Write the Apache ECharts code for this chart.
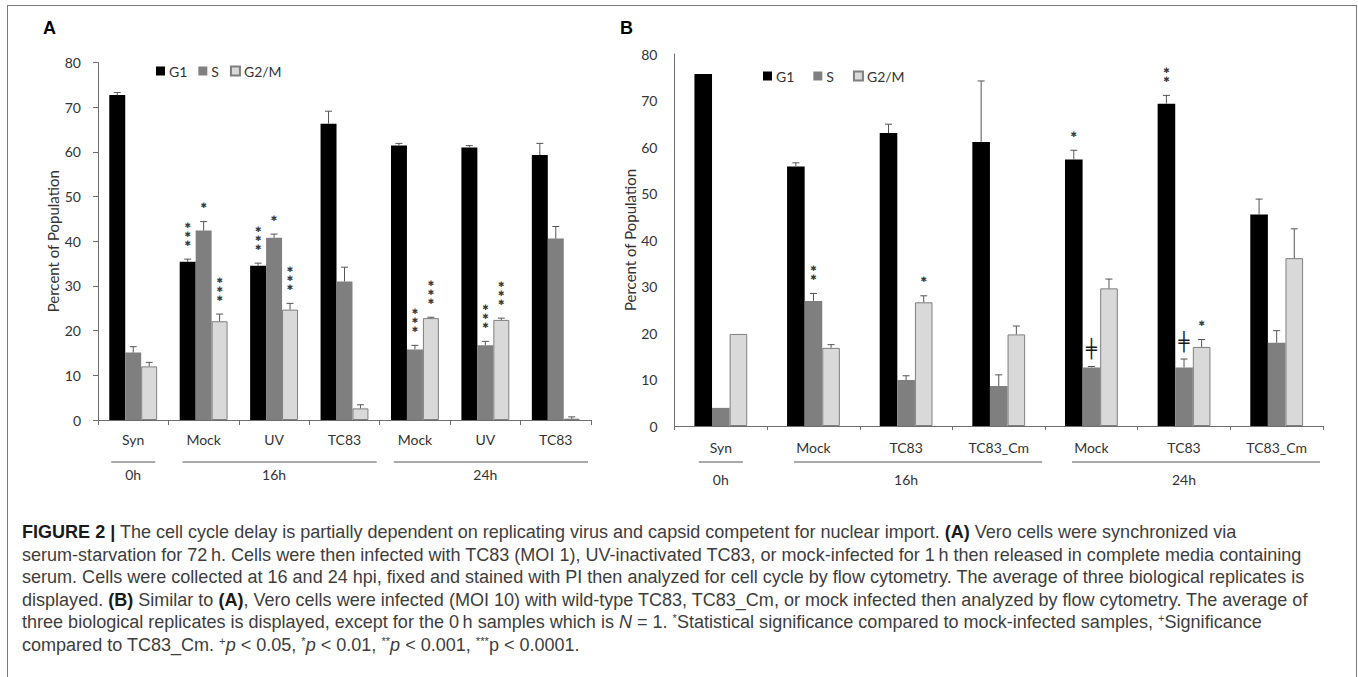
<!DOCTYPE html>
<html>
<head>
<meta charset="utf-8">
<script src="https://cdn.jsdelivr.net/npm/echarts@6/dist/echarts.min.js"></script>
<style>
html,body{margin:0;padding:0;width:1358px;height:677px;overflow:hidden;background:#fff;}
#frame{position:absolute;left:7px;top:5px;width:1350px;height:720px;border:1px solid #7a7a7a;box-sizing:border-box;}
#chart{position:absolute;left:0;top:0;width:1358px;height:677px;}
#caption{position:absolute;left:22px;top:521px;font-family:"Liberation Sans",Arial,sans-serif;color:#3d3d3d;white-space:nowrap;font-size:16px;line-height:22.5px;}
#caption .ln{display:block;height:22.5px;}
#caption .ln span{display:inline-block;}
#caption b{font-weight:700;color:#1a1a1a;}
#caption sup{font-size:0.62em;line-height:0;vertical-align:0.55em;}
</style>
</head>
<body>
<div id="frame"></div>
<div id="chart"></div>
<div id="caption">
<div class="ln"><span><b>FIGURE 2 |</b> The cell cycle delay is partially dependent on replicating virus and capsid competent for nuclear import. <b>(A)</b> Vero cells were synchronized via</span></div>
<div class="ln"><span>serum-starvation for 72&#8201;h. Cells were then infected with TC83 (MOI 1), UV-inactivated TC83, or mock-infected for 1&#8201;h then released in complete media containing</span></div>
<div class="ln"><span>serum. Cells were collected at 16 and 24 hpi, fixed and stained with PI then analyzed for cell cycle by flow cytometry. The average of three biological replicates is</span></div>
<div class="ln"><span>displayed. <b>(B)</b> Similar to <b>(A)</b>, Vero cells were infected (MOI 10) with wild-type TC83, TC83_Cm, or mock infected then analyzed by flow cytometry. The average of</span></div>
<div class="ln"><span>three biological replicates is displayed, except for the 0&#8201;h samples which is <i>N</i> = 1. <sup>*</sup>Statistical significance compared to mock-infected samples, <sup>+</sup>Significance</span></div>
<div class="ln"><span>compared to TC83_Cm. <sup>+</sup><i>p</i> &lt; 0.05, <sup>*</sup><i>p</i> &lt; 0.01, <sup>**</sup><i>p</i> &lt; 0.001, <sup>***</sup>p &lt; 0.0001.</span></div>
</div>
<script>
// ---------- Panel A data ----------
const categoriesA = ['Syn', 'Mock', 'UV', 'TC83', 'Mock', 'UV', 'TC83'];
const groupsA = [['0h', 0, 0], ['16h', 1, 3], ['24h', 4, 6]];
const g1A = [72.7, 35.4, 34.5, 66.3, 61.4, 61.0, 59.3];
const g1ErrA = [0.6, 0.6, 0.6, 2.8, 0.5, 0.4, 2.6];
const sA = [15.1, 42.4, 40.8, 31.0, 15.8, 16.7, 40.6];
const sErrA = [1.3, 2.0, 0.8, 3.2, 0.9, 0.9, 2.7];
const g2mA = [12.0, 22.1, 24.7, 2.6, 22.8, 22.4, 0.3];
const g2mErrA = [0.9, 1.6, 1.4, 0.8, 0.2, 0.4, 0.4];
const g1SigA = ['', '***', '***', '', '', '', ''];
const sSigA = ['', '*', '*', '', '***', '***', ''];
const g2mSigA = ['', '***', '***', '', '***', '***', ''];

// ---------- Panel B data ----------
const categoriesB = ['Syn', 'Mock', 'TC83', 'TC83_Cm', 'Mock', 'TC83', 'TC83_Cm'];
const groupsB = [['0h', 0, 0], ['16h', 1, 3], ['24h', 4, 6]];
const g1B = [75.7, 55.8, 63.0, 61.1, 57.3, 69.3, 45.5];
const g1ErrB = [0, 0.8, 1.9, 13.1, 2.0, 1.8, 3.3];
const sB = [3.9, 26.9, 9.9, 8.6, 12.6, 12.6, 17.9];
const sErrB = [0, 1.6, 0.9, 2.4, 0.2, 1.8, 2.6];
const g2mB = [19.8, 16.8, 26.6, 19.7, 29.6, 17.0, 36.1];
const g2mErrB = [0, 0.7, 1.4, 1.8, 2.0, 1.6, 6.3];
const g1SigB = ['', '', '', '', '*', '**', ''];
const sSigB = ['', '**', '', '', '\u256A', '\u256A', ''];
const g2mSigB = ['', '', '*', '', '', '*', ''];

const seriesNames = ['G1', 'S', 'G2/M'];
const yTicks = [0, 10, 20, 30, 40, 50, 60, 70, 80];

const FONT = 'Lato, "Open Sans", sans-serif';
const TXT = '#333333';
const AXIS = '#6e6e6e';
const ERR = '#555555';
const GAP_A = 0.32, GAP_B = 0.43;
const STAR = '\u2731';

const colors = {
  'G1': { color: '#000000' },
  'S': { color: '#7f7f7f' },
  'G2/M': { color: '#d9d9d9', borderColor: '#7f7f7f', borderWidth: 1 }
};

function barSeries(name, data, gi, gap) {
  return {
    type: 'bar', name: name, data: data, xAxisIndex: gi, yAxisIndex: gi,
    barGap: '0%', barCategoryGap: (gap * 100) + '%',
    itemStyle: colors[name], silent: true, z: 2
  };
}

function errSeries(pos, means, errs, sigs, gi, gap) {
  return {
    type: 'custom', xAxisIndex: gi, yAxisIndex: gi, silent: true, clip: false, z: 5,
    data: means.map((m, i) => [i, m, errs[i]]),
    encode: { x: 0, y: 1 },
    renderItem: function (params, api) {
      const i = api.value(0), m = api.value(1), e = api.value(2);
      const band = api.size([1, 0])[0];
      const bw = band * (1 - gap) / 3;
      const cx = api.coord([i, 0])[0] + (pos - 1) * bw;
      const yb = api.coord([i, m])[1];
      const yt = api.coord([i, m + e])[1];
      const children = [];
      if (e > 0) {
        children.push({ type: 'line', shape: { x1: cx, y1: yb, x2: cx, y2: yt }, style: { stroke: ERR, lineWidth: 1 } });
        children.push({ type: 'line', shape: { x1: cx - 3.5, y1: yt, x2: cx + 3.5, y2: yt }, style: { stroke: ERR, lineWidth: 1 } });
      }
      const sig = sigs[params.dataIndex];
      if (sig) {
        if (sig[0] === '*') {
          for (let k = 0; k < sig.length; k++) {
            children.push({ type: 'text', style: {
              text: STAR, x: cx, y: yt - 16 - k * 9,
              align: 'center', verticalAlign: 'middle', textAlign: 'center', textVerticalAlign: 'middle',
              font: '7.7px "DejaVu Sans"', fill: '#3a3a3a' } });
          }
        } else {
          children.push({ type: 'text', style: {
            text: sig, x: cx, y: yt - 18,
            align: 'center', verticalAlign: 'middle', textAlign: 'center', textVerticalAlign: 'middle',
            font: '18px "DejaVu Sans"', fill: '#1a1a1a' } });
        }
      }
      return { type: 'group', children: children };
    }
  };
}

function groupSeries(groups, gi, inset, lineOff, textOff) {
  return {
    type: 'custom', xAxisIndex: gi, yAxisIndex: gi, silent: true, clip: false, z: 5,
    data: groups.map(g => [g[1], 0]),
    encode: { x: 0, y: 1 },
    renderItem: function (params, api) {
      const g = groups[params.dataIndex];
      const band = api.size([1, 0])[0];
      const ps = api.coord([g[1], 0]);
      const pe = api.coord([g[2], 0]);
      const y0 = ps[1];
      let x1, x2;
      if (g[1] === g[2]) { x1 = ps[0] - 22; x2 = ps[0] + 22; }
      else { x1 = ps[0] - band / 2 + inset * band; x2 = pe[0] + band / 2 - 3; }
      return { type: 'group', children: [
        { type: 'line', shape: { x1: x1, y1: y0 + lineOff, x2: x2, y2: y0 + lineOff }, style: { stroke: '#555', lineWidth: 1 } },
        { type: 'text', style: { text: g[0], x: (ps[0] + pe[0]) / 2, y: y0 + textOff,
          align: 'center', verticalAlign: 'middle', textAlign: 'center', textVerticalAlign: 'middle',
          font: '14px ' + FONT, fill: TXT } }
      ] };
    }
  };
}

function xAxisCfg(cats, gi, margin, tickLen) {
  return {
    type: 'category', data: cats, gridIndex: gi,
    axisLine: { show: true, lineStyle: { color: AXIS, width: 1 } },
    axisTick: { show: true, length: tickLen, lineStyle: { color: AXIS } },
    axisLabel: { interval: 0, fontSize: 14, fontFamily: FONT, color: TXT, margin: margin },
    splitLine: { show: false }
  };
}

function yAxisCfg(gi, ticks, nameGap) {
  return {
    type: 'value', gridIndex: gi, min: 0, max: 80, interval: 10,
    axisLine: { show: true, lineStyle: { color: AXIS, width: 1 } },
    axisTick: { show: ticks, length: 5, lineStyle: { color: AXIS } },
    axisLabel: { fontSize: 14, fontFamily: FONT, color: TXT, margin: 17,
      formatter: v => (yTicks.indexOf(v) >= 0 ? String(v) : '') },
    splitLine: { show: false },
    name: 'Percent of Population', nameLocation: 'middle', nameGap: nameGap, nameRotate: 90,
    nameTextStyle: { fontSize: 15, fontFamily: FONT, color: TXT }
  };
}

function legendCfg(left, top, gap) {
  return {
    data: seriesNames, left: left, top: top, orient: 'horizontal',
    icon: 'rect', itemWidth: 9, itemHeight: 9, itemGap: gap, padding: 0,
    selectedMode: false,
    textStyle: { fontSize: 14, fontFamily: FONT, color: TXT, padding: [0, 0, 0, -1] }
  };
}

const chart = echarts.init(document.getElementById('chart'), null, { renderer: 'svg' });
const option = {
  animation: false,
  backgroundColor: 'transparent',
  graphic: [
    { type: 'text', left: 43, top: 19, style: { text: 'A', font: 'bold 18px "Liberation Sans", Arial', fill: '#000' } },
    { type: 'text', left: 620, top: 19, style: { text: 'B', font: 'bold 18px "Liberation Sans", Arial', fill: '#000' } }
  ],
  legend: [legendCfg(156, 64, 11), legendCfg(763, 69, 19)],
  grid: [
    { left: 98, top: 62.5, width: 493, height: 357.5, containLabel: false },
    { left: 674.5, top: 54, width: 648.5, height: 372, containLabel: false }
  ],
  xAxis: [xAxisCfg(categoriesA, 0, 12, 5), xAxisCfg(categoriesB, 1, 14, 4)],
  yAxis: [yAxisCfg(0, true, 37), yAxisCfg(1, false, 36)],
  series: [
    barSeries('G1', g1A, 0, GAP_A), barSeries('S', sA, 0, GAP_A), barSeries('G2/M', g2mA, 0, GAP_A),
    barSeries('G1', g1B, 1, GAP_B), barSeries('S', sB, 1, GAP_B), barSeries('G2/M', g2mB, 1, GAP_B),
    errSeries(0, g1A, g1ErrA, g1SigA, 0, GAP_A), errSeries(1, sA, sErrA, sSigA, 0, GAP_A), errSeries(2, g2mA, g2mErrA, g2mSigA, 0, GAP_A),
    errSeries(0, g1B, g1ErrB, g1SigB, 1, GAP_B), errSeries(1, sB, sErrB, sSigB, 1, GAP_B), errSeries(2, g2mB, g2mErrB, g2mSigB, 1, GAP_B),
    groupSeries(groupsA, 0, 0.2, 42, 54),
    groupSeries(groupsB, 1, 0.29, 36, 53)
  ]
};
chart.setOption(option);

// fit caption width to the reference line length
function fitCaption() {
  const cap = document.getElementById('caption');
  const spans = cap.querySelectorAll('.ln span');
  const targets = [[1, 1282], [2, 1281], [3, 1283]];
  let ratio = 0;
  targets.forEach(t => { ratio += t[1] / spans[t[0]].getBoundingClientRect().width; });
  ratio /= targets.length;
  const fs = parseFloat(getComputedStyle(cap).fontSize);
  cap.style.fontSize = (fs * ratio).toFixed(2) + 'px';
}
fitCaption();
if (document.fonts && document.fonts.ready) { document.fonts.ready.then(fitCaption); }
</script>
</body>
</html>
